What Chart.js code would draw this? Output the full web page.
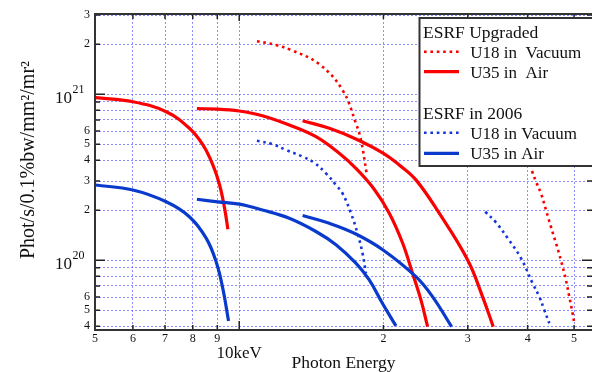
<!DOCTYPE html>
<html>
<head>
<meta charset="utf-8">
<script src="https://cdn.jsdelivr.net/npm/chart.js@4.4.1/dist/chart.umd.min.js"></script>
<style>
  html, body { margin: 0; padding: 0; background: #fff; overflow: hidden; }
  #wrap { position: relative; width: 592px; height: 372px; }
</style>
</head>
<body>
<div id="wrap"><canvas id="fluxChart"></canvas></div>
<script>
// [photon energy keV, brilliance ph/s/0.1%bw/mm2/mr2]
// ESRF upgraded
const upU18h1 = [[10.89, 2.09e21], [11.93, 1.98e21], [12.82, 1.85e21], [14.69, 1.52e21], [16.43, 1.06e21], [17.52, 6.69e20], [17.95, 5.31e20], [18.45, 3.34e20]];
const upU18h3 = [[40.84, 3.45e20], [41.63, 2.98e20], [42.65, 2.53e20], [43.68, 2.01e20], [44.74, 1.59e20], [45.83, 1.27e20], [46.94, 1.0e20], [48.08, 7.61e19], [48.86, 6.04e19], [49.64, 4.8e19], [50.05, 4.17e19]];
const upU35h1 = [[5.01, 9.54e20], [6.0, 9.02e20], [7.04, 7.85e20], [7.87, 6.24e20], [8.40, 4.95e20], [8.81, 3.75e20], [9.10, 2.84e20], [9.32, 2.06e20], [9.47, 1.54e20]];
const upU35h3 = [[8.16, 8.19e20], [9.02, 8.15e20], [10.0, 7.93e20], [11.18, 7.43e20], [12.72, 6.53e20], [14.46, 5.55e20], [16.17, 4.41e20], [17.52, 3.58e20], [19.13, 2.68e20], [20.57, 1.92e20], [21.93, 1.27e20], [23.0, 8.35e19], [23.95, 5.77e19], [24.73, 3.98e19]];
const upU35h5 = [[13.56, 6.93e20], [15.42, 6.24e20], [17.52, 5.38e20], [20.0, 4.41e20], [21.58, 3.75e20], [23.38, 3.05e20], [26.15, 1.92e20], [30.0, 1.0e20], [32.2, 6.04e19], [33.9, 3.98e19]];
// ESRF in 2006
const oldU18h1 = [[10.89, 5.25e20], [11.74, 5.0e20], [12.52, 4.62e20], [13.56, 4.21e20], [14.34, 3.87e20], [15.17, 3.34e20], [15.92, 2.84e20], [16.43, 2.53e20], [17.11, 1.92e20], [17.66, 1.45e20], [18.09, 1.10e20], [18.39, 8.35e19]];
const oldU18h3 = [[32.63, 1.96e20], [34.35, 1.69e20], [36.32, 1.36e20], [38.74, 1.03e20], [40.96, 7.27e19], [42.30, 6.04e19], [43.33, 5.02e19], [44.38, 4.17e19]];
const oldU35h1 = [[5.01, 2.84e20], [6.0, 2.65e20], [7.04, 2.25e20], [7.87, 1.83e20], [8.53, 1.36e20], [8.95, 9.8e19], [9.24, 6.78e19], [9.50, 4.31e19]];
const oldU35h3 = [[8.16, 2.33e20], [9.02, 2.25e20], [10.0, 2.18e20], [11.18, 2.01e20], [12.72, 1.79e20], [14.46, 1.49e20], [15.92, 1.24e20], [17.52, 9.6e19], [18.68, 7.61e19], [19.9, 5.51e19], [21.24, 4.02e19]];
const oldU35h5 = [[13.56, 1.86e20], [15.42, 1.67e20], [17.52, 1.44e20], [20.0, 1.15e20], [23.38, 7.96e19], [25.32, 6.04e19], [27.75, 3.98e19]];

const xTickValues = [5, 6, 7, 8, 9, 10, 20, 30, 40, 50];
const xTickLabels = ['5', '6', '7', '8', '9', '10keV', '2', '3', '4', '5'];
const yTickValues = [4e19, 5e19, 6e19, 7e19, 8e19, 9e19, 1e20, 2e20, 3e20, 4e20, 5e20, 6e20, 7e20, 8e20, 9e20, 1e21, 2e21, 3e21];
const yTickLabels = ['4', '5', '6', '', '', '', '', '2', '3', '4', '5', '6', '', '', '', '', '2', '3'];

const legendHeaders = ['ESRF Upgraded', 'ESRF in 2006'];
const legendNames = ['U18 in  Vacuum', 'U35 in  Air', 'U18 in Vacuum', 'U35 in Air'];
const xTitle = 'Photon Energy';
const yTitle = 'Phot/s/0.1%bw/mm\u00b2/mr\u00b2';

const SERIF = "'Liberation Serif', 'Times New Roman', serif";
const RED = 'rgb(250,0,0)';
const BLUE = '#0a3acc';
const BLUE_DOT = '#1434e0';
const GRID = 'rgba(80,80,255,0.65)';

Chart.defaults.font.family = SERIF;
Chart.defaults.color = '#111';

function curve(label, pts, color, dotted) {
    return {
        label: label,
        data: pts.map(p => ({ x: p[0], y: p[1] })),
        borderColor: color,
        borderWidth: dotted ? 2.6 : 3.2,
        borderDash: dotted ? [2.6, 3.8] : [],
        borderCapStyle: 'butt',
        pointRadius: 0,
        fill: false,
        tension: 0.4
    };
}

const datasets = [
    curve(legendNames[2], oldU18h1, BLUE_DOT, true),
    curve(legendNames[2], oldU18h3, BLUE_DOT, true),
    curve(legendNames[3], oldU35h1, BLUE, false),
    curve(legendNames[3], oldU35h3, BLUE, false),
    curve(legendNames[3], oldU35h5, BLUE, false),
    curve(legendNames[0], upU18h1, RED, true),
    curve(legendNames[0], upU18h3, RED, true),
    curve(legendNames[1], upU35h1, RED, false),
    curve(legendNames[1], upU35h3, RED, false),
    curve(legendNames[1], upU35h5, RED, false)
];

// frame, inward ticks, decade labels, y title and the grouped legend
const decorPlugin = {
    id: 'decor',
    afterDraw(chart) {
        const ctx = chart.ctx;
        const a = chart.chartArea;
        const xs = chart.scales.x, ys = chart.scales.y;
        const isDecade = v => Math.abs(Math.log10(v) - Math.round(Math.log10(v))) < 1e-9;
        ctx.save();

        ctx.strokeStyle = '#222';
        ctx.lineWidth = 1.5;
        ctx.beginPath();
        xs.ticks.forEach(t => {
            const px = xs.getPixelForValue(t.value);
            ctx.moveTo(px, a.bottom); ctx.lineTo(px, a.bottom - (isDecade(t.value) ? 9 : 5));
            ctx.moveTo(px, a.top); ctx.lineTo(px, a.top + (isDecade(t.value) ? 7 : 5));
        });
        ys.ticks.forEach(t => {
            const py = ys.getPixelForValue(t.value);
            const len = isDecade(t.value) ? 10 : 5;
            ctx.moveTo(a.left, py); ctx.lineTo(a.left + len, py);
            ctx.moveTo(a.right, py); ctx.lineTo(a.right - len, py);
        });
        ctx.stroke();

        ctx.lineWidth = 2;
        ctx.strokeStyle = '#333';
        ctx.beginPath();
        ctx.moveTo(a.right + 2, a.top); ctx.lineTo(a.left, a.top);
        ctx.lineTo(a.left, a.bottom); ctx.lineTo(a.right + 2, a.bottom);
        ctx.stroke();

        ctx.fillStyle = '#111';
        ctx.textBaseline = 'alphabetic';
        ys.ticks.forEach(t => {
            if (!isDecade(t.value)) return;
            const py = ys.getPixelForValue(t.value);
            ctx.font = '17px ' + SERIF;
            ctx.textAlign = 'right';
            ctx.fillText('10', 72, py + 9);
            ctx.font = '12px ' + SERIF;
            ctx.textAlign = 'left';
            ctx.fillText(String(Math.round(Math.log10(t.value))), 72.5, py - 1);
        });

        ctx.save();
        ctx.translate(34, 160);
        ctx.rotate(-Math.PI / 2);
        ctx.font = '20px ' + SERIF;
        ctx.textAlign = 'center';
        ctx.fillText(yTitle, 0, 0);
        ctx.restore();

        // legend box
        ctx.fillStyle = '#fff';
        ctx.fillRect(419.5, 18, 190, 148);
        ctx.strokeStyle = '#333';
        ctx.lineWidth = 2;
        ctx.strokeRect(419.5, 18, 190, 148);
        ctx.fillStyle = '#111';
        ctx.textAlign = 'left';
        ctx.font = '17.5px ' + SERIF;
        ctx.fillText(legendHeaders[0], 423, 37.5);
        ctx.fillText(legendHeaders[1], 423, 118.5);
        const rows = [
            { ds: datasets[5], y: 51.7, name: legendNames[0] },
            { ds: datasets[7], y: 71.7, name: legendNames[1] },
            { ds: datasets[0], y: 132.7, name: legendNames[2] },
            { ds: datasets[2], y: 153.3, name: legendNames[3] }
        ];
        rows.forEach(r => {
            ctx.strokeStyle = r.ds.borderColor;
            ctx.lineWidth = r.ds.borderWidth;
            ctx.setLineDash(r.ds.borderDash);
            ctx.beginPath();
            ctx.moveTo(424, r.y); ctx.lineTo(459, r.y);
            ctx.stroke();
            ctx.setLineDash([]);
            ctx.font = '17px ' + SERIF;
            ctx.fillText(r.name, 470.3, r.y + 5.8);
        });
        ctx.restore();
    }
};

new Chart(document.getElementById('fluxChart'), {
    type: 'line',
    data: { datasets: datasets },
    options: {
        responsive: true,
        maintainAspectRatio: false,
        animation: false,
        layout: { padding: { top: 14, right: 0, bottom: 0, left: 0 } },
        scales: {
            x: {
                type: 'logarithmic',
                min: 5,
                max: 54.5,
                afterBuildTicks: s => { s.ticks = xTickValues.map(v => ({ value: v })); },
                afterFit: s => { s.height = 42; },
                grid: { color: GRID, lineWidth: 1, drawTicks: false },
                border: { display: false, dash: [2, 2] },
                title: { display: true, text: xTitle, font: { size: 17.5, lineHeight: 1 }, padding: 0 },
                ticks: {
                    autoSkip: false,
                    maxRotation: 0,
                    padding: 2,
                    font: c => (c.tick && c.tick.value === 10) ? { size: 17, lineHeight: 0.85 } : { size: 12, lineHeight: 1.2 },
                    callback: (v, i) => i === 5 ? ['', xTickLabels[i]] : xTickLabels[i]
                }
            },
            y: {
                type: 'logarithmic',
                min: 3.8e19,
                max: 3.046e21,
                afterBuildTicks: s => { s.ticks = yTickValues.map(v => ({ value: v })); },
                afterFit: s => { s.width = 95; },
                grid: { color: GRID, lineWidth: 1, drawTicks: false },
                border: { display: false, dash: [2, 2] },
                ticks: {
                    autoSkip: false,
                    padding: 5,
                    font: { size: 12 },
                    callback: (v, i) => yTickLabels[i]
                }
            }
        },
        plugins: {
            legend: { display: false },
            tooltip: { enabled: false }
        }
    },
    plugins: [decorPlugin]
});
</script>
</body>
</html>
